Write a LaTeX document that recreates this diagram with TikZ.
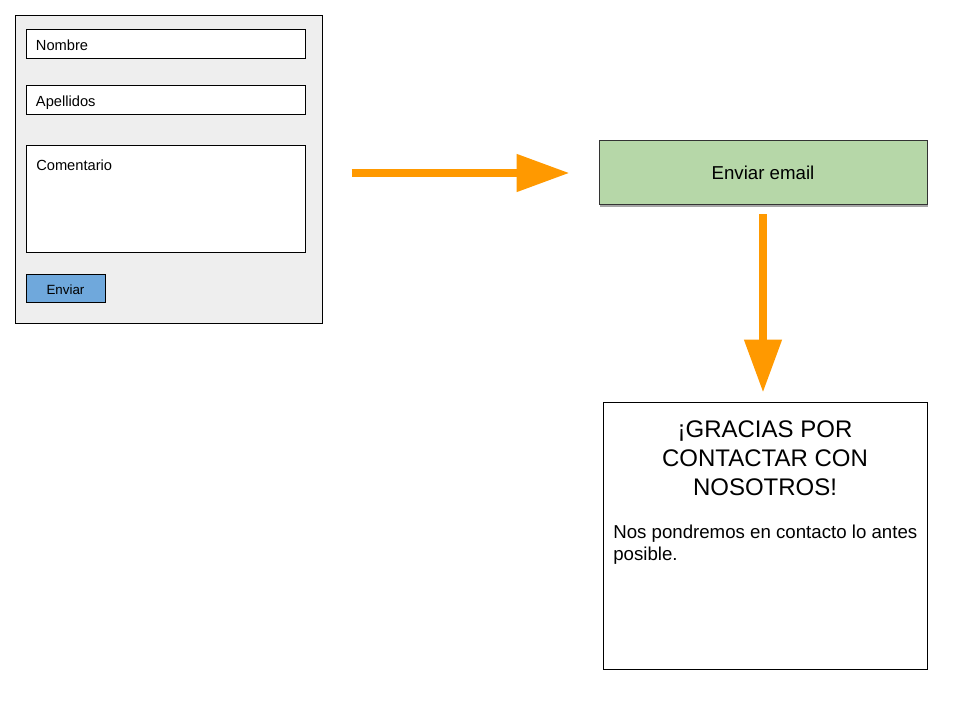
\documentclass[tikz,border=0pt]{standalone}
\usepackage{fontspec}
\setmainfont{Liberation Sans}
\usetikzlibrary{arrows.meta,shadows}
\definecolor{panelgray}{HTML}{EEEEEE}
\definecolor{buttonblue}{HTML}{6FA8DC}
\definecolor{mailgreen}{HTML}{B6D7A8}
\definecolor{floworange}{HTML}{FF9900}
\begin{document}
\begin{tikzpicture}[x=0.75pt,y=-0.75pt,
    panel/.style={draw=black, fill=panelgray, line width=0.75pt, minimum width=230.25pt, minimum height=230.25pt},
    field/.style={draw=black, fill=white, line width=0.75pt, minimum width=209.25pt, minimum height=21.75pt,
      text width=194.25pt, inner xsep=7.5pt, align=left, text height=9.5pt, text depth=0pt,
      font=\fontsize{11}{13}\selectfont},
    button/.style={draw=black, fill=buttonblue, line width=0.75pt, minimum width=59.25pt, minimum height=21pt,
      text height=8pt, text depth=0pt, font=\fontsize{10}{12}\selectfont},
    mailbox/.style={draw=black!80, fill=mailgreen, line width=0.75pt, minimum width=246pt, minimum height=48pt,
      font=\fontsize{14}{16}\selectfont,
      drop shadow={shadow xshift=0.4pt, shadow yshift=-1.4pt, opacity=0.35, fill=black}},
    page/.style={draw=black, fill=white, line width=0.75pt, minimum width=243pt, minimum height=200.25pt},
    flow/.style={draw=floworange, line width=6pt, -{Triangle[length=39.75pt, width=27pt]}}]
  \useasboundingbox (0,0) rectangle (960,720);

  % formulario
  \node[panel] (form) at (168.5,169.5) {};
  \node[field] (nombre) at (165.5,44.5) {Nombre};
  \node[field] (apellidos) at (165.5,100.5) {Apellidos};
  \node[field, minimum height=80.25pt] (comentario) at (165.5,199.5) {};
  \node[anchor=base west, inner sep=0, font=\fontsize{11}{13}\selectfont] (comentariotxt) at (36,170.5) {Comentario};
  \node[button] (enviar) at (65.5,289) {Enviar};

  % envio
  \node[mailbox] (email) at (763,173) {Enviar email};

  % pagina de gracias
  \node[page] (gracias) at (765,535.5) {};
  \node[anchor=north, inner sep=0, align=center, font=\fontsize{18}{21.75}\selectfont] (titulo) at (765,420)
    {¡GRACIAS POR\\CONTACTAR CON\\NOSOTROS!};
  \node[anchor=north west, inner sep=0, align=left, font=\fontsize{14}{16.5}\selectfont] (mensaje) at (613,525)
    {Nos pondremos en contacto lo antes\\posible.};

  % flechas
  \draw[flow, shorten <=21.75pt, shorten >=21.75pt] (form.east |- email.west) -- (email.west);
  \draw[flow, shorten <=6.75pt, shorten >=6.75pt] (email.south) -- (email.south |- gracias.north);
\end{tikzpicture}
\end{document}
